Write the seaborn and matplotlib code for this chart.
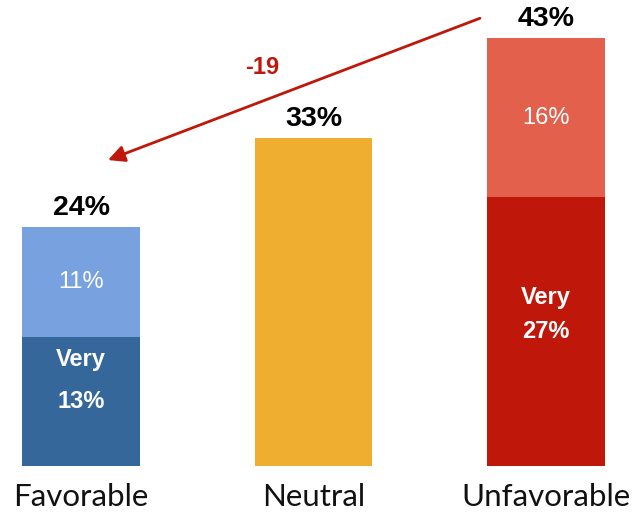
import seaborn as sns
import matplotlib.pyplot as plt
import pandas as pd

categories = ['Favorable', 'Neutral', 'Unfavorable']
totals = [24, 33, 43]
very = [13, 0, 27]
somewhat = [11, 0, 16]
light_colors = ['#77A2DF', '#EFAE2F', '#E3604C']
dark_colors = ['#35679A', '#EFAE2F', '#C0170B']
change = -19

bold_font = ['Liberation Sans', 'DejaVu Sans']

sns.set_style('white')
fig = plt.figure(figsize=(6.38, 5.16), dpi=100)
ax = fig.add_axes([0, 50 / 516, 1, 466 / 516])

df = pd.DataFrame({'category': categories, 'total': totals, 'very': very})

sns.barplot(data=df, x='category', y='total', hue='category', palette=light_colors,
            width=0.507, saturation=1, legend=False, linewidth=0, ax=ax)
sns.barplot(data=df, x='category', y='very', hue='category', palette=dark_colors,
            width=0.507, saturation=1, legend=False, linewidth=0, ax=ax)

ax.set_xlim(-81 / 232.5, (638 - 81) / 232.5)
ax.set_ylim(0, 466 / 9.95)
ax.set_xlabel('')
ax.set_ylabel('')
ax.set_yticks([])
sns.despine(ax=ax, left=True, bottom=True)
ax.tick_params(axis='x', length=0, pad=12)
for lbl in ax.get_xticklabels():
    lbl.set_fontfamily(['Lato', 'DejaVu Sans'])
    lbl.set_fontsize(22.5)
    lbl.set_color('#111111')

# totals above bars
for i, t in enumerate(totals):
    ax.text(i, t + 0.6, f'{t}%', ha='center', va='bottom', fontsize=20.5,
            fontweight='bold', family=bold_font, color='black')

# inner labels
for i in [0, 2]:
    ax.text(i, very[i] + somewhat[i] / 2, f'{somewhat[i]}%', ha='center', va='center',
            fontsize=17, family=bold_font, color='white')
ax.text(0, very[0] / 2 + 4.2, 'Very', ha='center', va='center', fontsize=17,
        fontweight='bold', family=bold_font, color='white')
ax.text(0, very[0] / 2, f'{very[0]}%', ha='center', va='center', fontsize=17,
        fontweight='bold', family=bold_font, color='white')
ax.text(2, very[2] / 2 + 3.4, 'Very', ha='center', va='center', fontsize=17,
        fontweight='bold', family=bold_font, color='white')
ax.text(2, very[2] / 2, f'{very[2]}%', ha='center', va='center', fontsize=17,
        fontweight='bold', family=bold_font, color='white')

# gap arrow
ax.annotate('', xy=(0.116, 30.75), xytext=(1.716, 45.0),
            arrowprops=dict(arrowstyle='-|>', color='#C0170B', lw=2,
                            mutation_scale=25, shrinkA=0, shrinkB=0))
ax.text(0.779, 40.1, f'{change}', ha='center', va='center', fontsize=17,
        fontweight='bold', family=bold_font, color='#C0170B')

fig.savefig('out.png', dpi=100)
